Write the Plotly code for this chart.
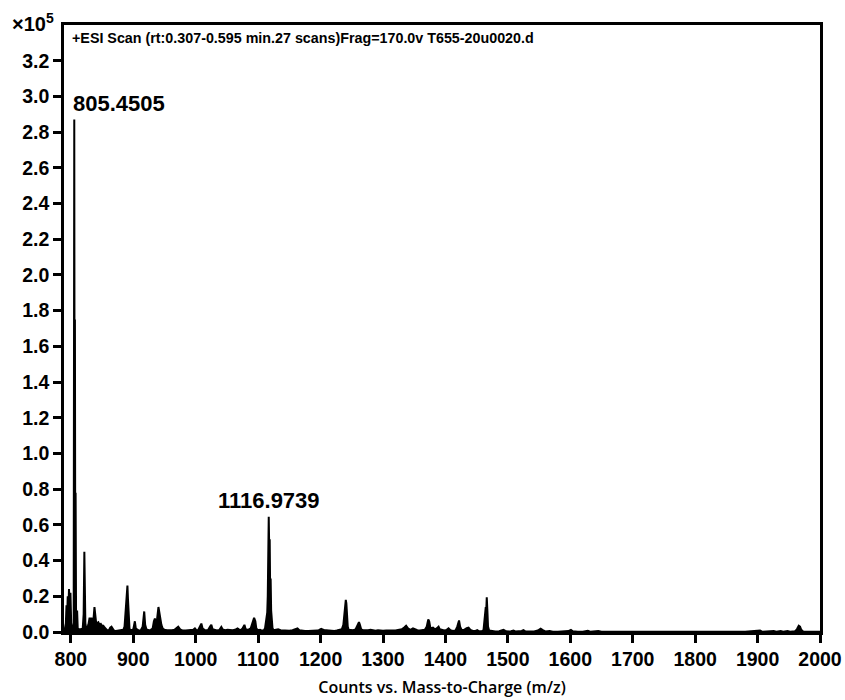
import plotly.graph_objects as go

# m/z profile points and intensity (counts x 10^5)
mz = [789, 790, 792, 793, 794, 795, 796, 797, 798, 799.3, 800.5, 801.5, 803, 804.5,
      805.45, 806.1, 806.5, 807.1, 807.6, 808.3, 810, 811, 813, 816, 819, 820.5, 821.6,
      822.4, 823.2, 824.5, 826, 828, 830, 831.5, 833, 834.5, 836, 837.8, 839, 840.5,
      842, 844, 846, 848, 850, 852, 854, 856, 858, 861, 863, 865, 867, 869, 872, 876,
      880, 884, 886, 888, 889.6, 890.6, 891.5, 892.5, 894, 897, 900, 902.5, 904, 906,
      909, 912, 915, 917.5, 919, 921, 925, 928, 931, 933, 934.6, 936, 938, 940.3, 942,
      943.5, 945, 947, 950, 954, 958, 962, 966, 969, 972, 975, 979, 984, 988, 992, 996,
      998.7, 1001, 1004, 1007, 1009, 1011, 1014, 1017, 1020, 1023, 1025, 1027, 1030,
      1034, 1038, 1041, 1043, 1047, 1051, 1055, 1059, 1063, 1067, 1069, 1072, 1075,
      1078, 1080, 1084, 1088, 1091, 1093.5, 1095.5, 1097, 1100, 1103, 1106, 1109, 1111,
      1113, 1114.6, 1115.4, 1115.8, 1116.5, 1116.97, 1117.8, 1118.5, 1119.3, 1120,
      1120.8, 1121.8, 1123, 1125, 1128, 1132, 1136, 1140, 1145, 1150, 1155, 1160, 1163,
      1166, 1170, 1175, 1180, 1185, 1190, 1195, 1198, 1201, 1203, 1206, 1209, 1213,
      1218, 1222, 1226, 1230, 1234, 1236.5, 1238.3, 1239.5, 1240.4, 1241.3, 1242.3,
      1243.5, 1245, 1248, 1252, 1256, 1259, 1261.5, 1263, 1265, 1268, 1272, 1276, 1280,
      1284, 1288, 1292, 1296, 1300, 1305, 1310, 1315, 1320, 1325, 1330, 1334, 1337,
      1340, 1344, 1348, 1351, 1355, 1359, 1363, 1367, 1370, 1372.5, 1374, 1376, 1380,
      1383, 1386, 1389, 1391, 1395, 1398, 1402, 1405, 1408, 1412, 1416, 1419, 1421.8,
      1423.5, 1426, 1430, 1434, 1437, 1440, 1444, 1448, 1451, 1454, 1458, 1461, 1463.5,
      1464.6, 1465.5, 1466.2, 1467.2, 1468.2, 1470, 1475, 1480, 1486, 1490, 1493, 1496,
      1500, 1505, 1509, 1512, 1518, 1522, 1525, 1528, 1535, 1542, 1548, 1552.5, 1556,
      1560, 1567, 1572, 1580, 1590, 1597, 1601, 1604, 1612, 1620, 1628, 1632, 1645,
      1650, 1670, 1700, 1730, 1753.5, 1760, 1800, 1840, 1845, 1880, 1904, 1908, 1926,
      1930, 1937, 1941, 1948, 1952, 1960, 1963, 1966, 1968, 1970, 1973, 1985, 2000]
intensity = [0.0, 0.01, 0.05, 0.15, 0.08, 0.2, 0.12, 0.24, 0.15, 0.22, 0.05, 0.02, 0.01, 0.02,
             2.87, 0.3, 1.75, 0.2, 0.78, 0.1, 0.12, 0.02, 0.015, 0.015, 0.02, 0.1, 0.45,
             0.2, 0.05, 0.02, 0.02, 0.04, 0.08, 0.05, 0.08, 0.04, 0.06, 0.14, 0.07, 0.05,
             0.05, 0.055, 0.04, 0.045, 0.035, 0.035, 0.025, 0.015, 0.01, 0.01, 0.025, 0.03, 0.02, 0.008, 0.005, 0.007,
             0.01, 0.012, 0.03, 0.15, 0.22, 0.26, 0.18, 0.06, 0.015, 0.01, 0.015, 0.06, 0.02, 0.015,
             0.008, 0.01, 0.03, 0.115, 0.04, 0.015, 0.01, 0.012, 0.02, 0.06, 0.075, 0.06, 0.07, 0.14, 0.1,
             0.07, 0.04, 0.02, 0.012, 0.01, 0.008, 0.01, 0.012, 0.02, 0.03, 0.015, 0.008, 0.008, 0.01, 0.01, 0.012,
             0.02, 0.01, 0.012, 0.03, 0.047, 0.02, 0.012, 0.01, 0.012, 0.03, 0.04, 0.015, 0.01,
             0.008, 0.012, 0.028, 0.015, 0.01, 0.012, 0.01, 0.01, 0.012, 0.02, 0.015, 0.01, 0.02,
             0.04, 0.015, 0.012, 0.02, 0.05, 0.08, 0.06, 0.02, 0.01, 0.012, 0.008, 0.01, 0.02,
             0.06, 0.11, 0.2, 0.39, 0.3, 0.645, 0.45, 0.52, 0.2, 0.30,
             0.12, 0.06, 0.02, 0.01, 0.012, 0.015, 0.01, 0.008, 0.008, 0.007, 0.01, 0.015, 0.02,
             0.01, 0.006, 0.005, 0.006, 0.007, 0.006, 0.008, 0.012, 0.018, 0.015, 0.01, 0.01, 0.008,
             0.007, 0.006, 0.008, 0.01, 0.015, 0.04, 0.12, 0.16, 0.18, 0.16, 0.08,
             0.03, 0.012, 0.01, 0.01, 0.015, 0.035, 0.055, 0.04, 0.015, 0.01, 0.008, 0.01, 0.012,
             0.008, 0.007, 0.01, 0.008, 0.007, 0.008, 0.01, 0.008, 0.008, 0.01, 0.015, 0.025, 0.035,
             0.02, 0.012, 0.02, 0.015, 0.01, 0.008, 0.01, 0.012, 0.03, 0.07, 0.06, 0.02, 0.025,
             0.015, 0.02, 0.03, 0.015, 0.01, 0.008, 0.012, 0.02, 0.01, 0.006, 0.008, 0.03, 0.065,
             0.03, 0.01, 0.012, 0.022, 0.025, 0.012, 0.006, 0.006, 0.01, 0.004, 0.004, 0.01, 0.08,
             0.14, 0.13, 0.195, 0.12, 0.03, 0.008, 0.004, 0.003, 0.004, 0.008, 0.012, 0.006,
             0.003, 0.004, 0.008, 0.003, 0.003, 0.006, 0.01, 0.004, 0.003, 0.003, 0.008, 0.018, 0.01,
             0.003, 0.006, 0.002, 0.002, 0.002, 0.005, 0.012, 0.004, 0.002, 0.002, 0.007, 0.002, 0.005,
             0.002, 0.001, 0.001, 0.001, 0.004, 0.001, 0.001, 0.005, 0.001, 0.001, 0.008, 0.001, 0.006,
             0.002, 0.006, 0.002, 0.006, 0.002, 0.004, 0.015, 0.035, 0.03, 0.012, 0.003, 0.001, 0.001]

peak_labels = ["805.4505", "1116.9739"]
peak_mz = [805.45, 1116.97]
peak_int = [2.87, 0.645]

y_ticks = [round(0.2 * i, 1) for i in range(17)]
x_ticks = list(range(800, 2001, 100))

header = "+ESI Scan (rt:0.307-0.595 min.27 scans)Frag=170.0v T655-20u0020.d"

fig = go.Figure()
fig.add_trace(go.Scatter(x=mz, y=intensity, mode="lines", fill="tozeroy",
                         fillcolor="black", line=dict(color="black", width=2),
                         hoverinfo="skip", showlegend=False))

for lab, xm, yi in zip(peak_labels, peak_mz, peak_int):
    fig.add_annotation(x=xm, y=yi, text=lab, showarrow=False, xanchor="left" if xm < 900 else "center",
                       yanchor="bottom", yshift=2, xshift=-3 if xm < 900 else 0,
                       font=dict(family="Arial", size=22, color="black", weight="bold"))

fig.add_annotation(xref="paper", yref="paper", x=0.008, y=0.995, text=header, showarrow=False,
                   xanchor="left", yanchor="top",
                   font=dict(family="Arial", size=14.3, color="black", weight="bold"))
fig.add_annotation(xref="paper", yref="paper", x=-0.041, y=1.0, text="×10<sup>5</sup>", showarrow=False,
                   xanchor="center", yanchor="bottom", yshift=-12,
                   font=dict(family="Arial", size=20, color="black", weight="bold"))

axis_common = dict(showline=True, linecolor="black", linewidth=2.5, mirror=True,
                   ticks="outside", ticklen=8, tickwidth=2.5, tickcolor="black",
                   showgrid=False, zeroline=False, automargin=False,
                   tickfont=dict(family="Arial", size=19.5, color="black", weight="bold"))

fig.update_xaxes(range=[789, 2000], tickvals=x_ticks, ticktext=[str(v) for v in x_ticks],
                 title=dict(text="Counts vs. Mass-to-Charge (m/z)", standoff=13,
                            font=dict(family="Open Sans", size=16, color="black", weight=600)),
                 **axis_common)
fig.update_yaxes(range=[0, 3.4], tickvals=y_ticks, ticktext=[f"{v:.1f}" for v in y_ticks],
                 **axis_common)

fig.update_layout(width=845, height=700, margin=dict(l=64, r=25, t=25, b=68),
                  plot_bgcolor="white", paper_bgcolor="white")

fig.write_html("out.html")
